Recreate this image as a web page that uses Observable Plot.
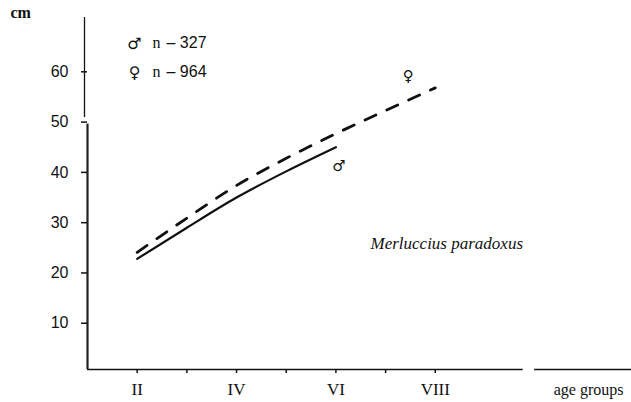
<!DOCTYPE html>
<html>
<head>
<meta charset="utf-8">
<script src="https://cdn.jsdelivr.net/npm/d3@7"></script>
<script src="https://cdn.jsdelivr.net/npm/@observablehq/plot@0.6"></script>
<style>
  html, body { margin: 0; padding: 0; background: #fff; }
  #chart svg { display: block; }
</style>
</head>
<body>
<div id="chart"></div>
<script>
// ---- data ----
const ageTicks = [2, 3, 4, 5, 6, 7, 8];
const ageTickLabels = ["II", "", "IV", "", "VI", "", "VIII"];
const yTicks = [10, 20, 30, 40, 50, 60];

const maleAges = [2, 3, 4, 5, 6];
const maleLength = [22.8, 29.0, 35.0, 40.2, 45.0];

const femaleAges = [2, 3, 4, 5, 6, 7, 8];
const femaleLength = [24.1, 30.9, 37.4, 42.8, 47.7, 52.3, 56.8];

const legendSymbols = ["♂", "♀"];
const legendN = ["n", "n"];
const legendCounts = ["– 327", "– 964"];

const speciesName = "Merluccius paradoxus";
const xAxisTitle = "age groups";
const yAxisTitle = "cm";

// ---- tables built from the arrays ----
const male = maleAges.map((a, i) => ({age: a, len: maleLength[i]}));
const female = femaleAges.map((a, i) => ({age: a, len: femaleLength[i]}));
const legend = legendSymbols.map((s, i) => ({sym: s, n: legendN[i], count: legendCounts[i], row: i}));

const serif = "'Liberation Serif', 'Times New Roman', serif";
const sans = "'Liberation Sans', Arial, sans-serif";
const symFont = "'DejaVu Sans', sans-serif";

const xDomain = [1, 11.95];
const yDomain = [0.8, 70.8];

const legendMarks = legend.flatMap((d) => [
  Plot.text([d.sym], {frameAnchor: "top-left", dx: 47, dy: 31 + d.row * 29, lineAnchor: "bottom",
    textAnchor: "middle", fontSize: 16, fontFamily: symFont, fill: "#111"}),
  Plot.text([d.n], {frameAnchor: "top-left", dx: 65, dy: 30 + d.row * 29, lineAnchor: "bottom",
    textAnchor: "start", fontSize: 16, fontFamily: serif, fill: "#111"}),
  Plot.text([d.count], {frameAnchor: "top-left", dx: 79, dy: 30 + d.row * 29, lineAnchor: "bottom",
    textAnchor: "start", fontSize: 16, fontFamily: sans, fill: "#111"})
]);

const chart = Plot.plot({
  width: 631,
  height: 402,
  marginLeft: 87,
  marginRight: 0,
  marginTop: 17,
  marginBottom: 33,
  style: {background: "#fff", color: "#111"},
  x: {type: "linear", domain: xDomain, axis: null, label: null},
  y: {type: "linear", domain: yDomain, axis: null, label: null},
  marks: [
    // y axis (two segments, as in the scan)
    Plot.ruleX([xDomain[0]], {y1: 50.9, y2: yDomain[1], dx: -3, stroke: "#111", strokeWidth: 1.3}),
    Plot.ruleX([xDomain[0]], {y1: yDomain[0], y2: 49.6, stroke: "#222", strokeWidth: 2.2}),
    Plot.axisY({
      ticks: yTicks, tickSize: 6, tickPadding: 13, fontSize: 16, label: null,
      fontFamily: sans, stroke: "#111", strokeWidth: 1.5, color: "#111"
    }),
    // x axis line (with small gap near right end)
    Plot.ruleY([yDomain[0]], {x1: xDomain[0], x2: 9.77, stroke: "#111", strokeWidth: 1.5}),
    Plot.ruleY([yDomain[0]], {x1: 10.0, x2: xDomain[1], stroke: "#111", strokeWidth: 1.5}),
    Plot.axisX({
      ticks: ageTicks, tickSize: 4, tickPadding: 9, label: null,
      tickFormat: (d) => ageTickLabels[ageTicks.indexOf(d)],
      fontSize: 17, fontFamily: serif, stroke: "#111", strokeWidth: 1.5, color: "#111"
    }),
    // growth curves
    Plot.line(male, {x: "age", y: "len", curve: "monotone-x", stroke: "#111", strokeWidth: 2.2}),
    Plot.line(female, {
      x: "age", y: "len", curve: "monotone-x", stroke: "#111", strokeWidth: 2.8,
      strokeDasharray: "12,12", strokeLinecap: "round"
    }),
    // sex symbols at line ends
    Plot.text(male.slice(-1), {x: "age", y: "len", text: () => "♂", dx: 3, dy: 19, fontSize: 15, fontFamily: symFont, fill: "#111"}),
    Plot.text(female.slice(-1), {x: "age", y: "len", text: () => "♀", dx: -27, dy: -12, fontSize: 15, fontFamily: symFont, fill: "#111"}),
    // legend
    ...legendMarks,
    // species name
    Plot.text([speciesName], {frameAnchor: "top-left", dx: 283, dy: 231, textAnchor: "start", lineAnchor: "bottom",
      fontSize: 17, fontStyle: "italic", fontFamily: serif, fill: "#111"}),
    // axis titles
    Plot.text([xAxisTitle], {frameAnchor: "bottom-right", dx: -8, dy: 25, textAnchor: "end", lineAnchor: "bottom",
      fontSize: 16, fontFamily: serif, fill: "#111"}),
    Plot.text([yAxisTitle], {frameAnchor: "top-left", dx: -77, dy: 0, textAnchor: "start", lineAnchor: "bottom",
      fontSize: 16, fontWeight: "bold", fontFamily: serif, fill: "#111"})
  ]
});
document.getElementById("chart").appendChild(chart);
</script>
</body>
</html>
